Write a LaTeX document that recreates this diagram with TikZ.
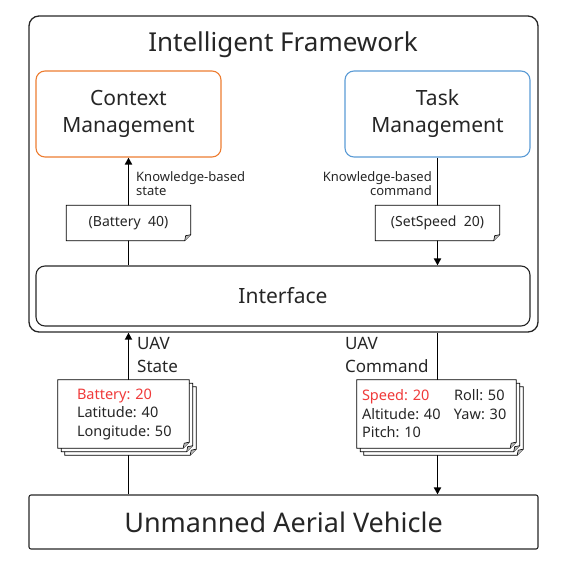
\documentclass[tikz,border=0pt]{standalone}
\usepackage{fontspec}
\setmainfont{Noto Sans}
\usetikzlibrary{positioning,arrows.meta,backgrounds}
\definecolor{ctxorange}{HTML}{ED7D31}
\definecolor{taskblue}{HTML}{5B9BD5}
\definecolor{valred}{HTML}{F03A3A}
\definecolor{ink}{HTML}{262626}
\tikzset{
	mgmt/.style={draw, rounded corners=9pt, line width=1.1pt, minimum width=185pt, minimum height=86pt, align=center, font=\fontsize{21}{27}\selectfont},
	flow/.style={line width=1.7pt, -{Triangle[length=7pt,width=7pt]}},
	sheet/.style={inner sep=0pt, align=left, font=\fontsize{14.5}{18.5}\selectfont},
	lbl/.style={inner sep=0pt, font=\fontsize{13}{14}\selectfont},
}
% outline of a note with a folded corner, shifted by (#2,#3)
\newcommand{\dogear}[3]{%
	\filldraw[fill=white, line width=0.8pt] ([shift={(#2,#3)}]#1.north west) -- ([shift={(#2,#3)}]#1.north east) -- ([shift={(#2,#3-6)}]#1.south east) -- ([shift={(#2-6,#3)}]#1.south east) -- ([shift={(#2,#3)}]#1.south west) -- cycle;
	\filldraw[fill=gray!55, line width=0.6pt] ([shift={(#2,#3-6)}]#1.south east) -- ([shift={(#2-5,#3-5)}]#1.south east) -- ([shift={(#2-6,#3)}]#1.south east);
}
\begin{document}
\begin{tikzpicture}[x=1pt,y=-1pt,color=ink]
	\useasboundingbox (0,0) rectangle (567,571);
	\node[draw, rounded corners=10pt, line width=1.3pt, minimum width=509pt, minimum height=316pt] (frame) at (283.5,174) {};
	\node[font=\fontsize{26}{30}\selectfont] (title) at (283,45) {Intelligent Framework};
	\node[mgmt, draw=ctxorange] (ctx) at (128.5,114) {Context\\Management};
	\node[mgmt, draw=taskblue] (task) at (437.5,114) {Task\\Management};
	\node[draw, rounded corners=9pt, line width=1.1pt, minimum width=494pt, minimum height=60pt, font=\fontsize{21}{25}\selectfont] (iface) at (283,296) {Interface};
	\node[draw, rounded corners=2pt, line width=1.1pt, minimum width=509pt, minimum height=54pt, font=\fontsize{27}{32}\selectfont] (uav) at (283.5,522) {Unmanned Aerial Vehicle};
	% notes
	\node[sheet, minimum width=124pt, minimum height=35pt, font=\fontsize{14}{16}\selectfont] (bat) at (128.5,223) {(Battery~~40)};
	\node[sheet, minimum width=124pt, minimum height=35pt, font=\fontsize{14}{16}\selectfont] (spd) at (437.5,223) {(SetSpeed~~20)};
	\node[sheet, minimum width=131pt, minimum height=68pt, text width=93pt] (st) at (123.5,414) {\textcolor{valred}{Battery:~20}\\Latitude:~40\\Longitude:~50};
	\node[sheet, minimum width=159pt, minimum height=68pt, text width=149pt] (cmd) at (436.5,414) {\textcolor{valred}{\makebox[92pt][l]{Speed:~20}}Roll:~50\\\makebox[92pt][l]{Altitude:~40}Yaw:~30\\Pitch:~10};
	\node[lbl, align=left, anchor=west] (kstate) at (136,184) {Knowledge-based\\state};
	\node[lbl, align=right, anchor=east] (kcmd) at (432,184) {Knowledge-based\\command};
	\node[lbl, align=left, anchor=west, font=\fontsize{17}{23}\selectfont] (ustate) at (137,355) {UAV\\State};
	\node[lbl, align=left, anchor=west, font=\fontsize{17}{23}\selectfont] (ucmd) at (345,355) {UAV\\Command};
	\begin{scope}[on background layer]
		\draw[flow] (iface.north -| ctx.south) -- (ctx.south);
		\draw[flow] (task.south) -- (iface.north -| task.south);
		\draw[flow] (uav.north -| ctx.south) -- (frame.south -| ctx.south);
		\draw[flow] (frame.south -| task.south) -- (uav.north -| task.south);
		\dogear{bat}{0}{0}
		\dogear{spd}{0}{0}
		\foreach \d in {7,3.5,0} {\dogear{st}{\d}{\d} \dogear{cmd}{\d}{\d}}
	\end{scope}
\end{tikzpicture}
\end{document}
